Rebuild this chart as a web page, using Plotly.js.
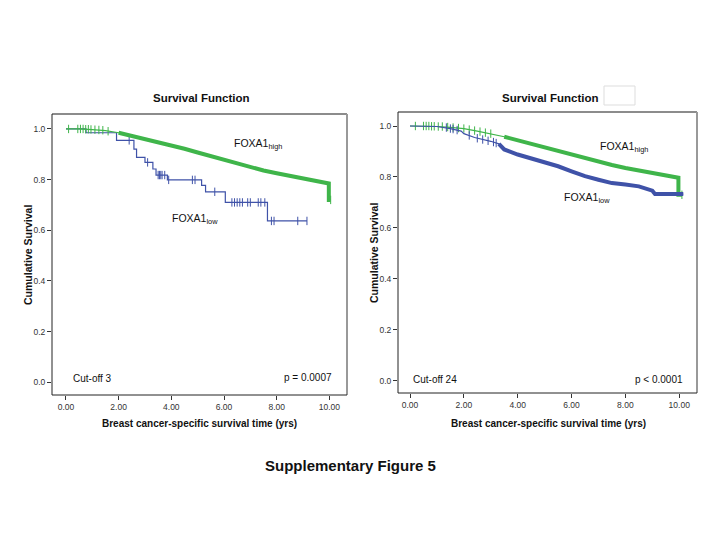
<!DOCTYPE html>
<html>
<head>
<meta charset="utf-8">
<script src="https://cdn.plot.ly/plotly-3.0.1.min.js"></script>
<style>html,body{margin:0;padding:0;background:#fff;}#chart{width:720px;height:540px;}</style>
</head>
<body>
<div id="chart"></div>
<script>
// ---- Data ----
// Left panel: Cut-off 3
var leftHighT = [0, 0.5, 1.0, 1.5, 2.0, 2.5, 3.0, 3.5, 4.0, 4.5, 5.0, 5.5, 6.0, 6.5, 7.0, 7.5, 8.0, 8.5, 9.0, 9.5, 9.98, 9.98, 10.05];
var leftHighS = [1.0, 1.0, 0.997, 0.993, 0.985, 0.973, 0.962, 0.949, 0.936, 0.922, 0.907, 0.892, 0.877, 0.863, 0.849, 0.836, 0.825, 0.815, 0.805, 0.793, 0.785, 0.72, 0.72];
var leftHighCensT = [0.1, 0.45, 0.55, 0.65, 0.75, 0.85, 0.95, 1.1, 1.25, 1.4, 1.6, 10.05];
var leftHighCensS = [1.0, 1.0, 1.0, 1.0, 0.999, 0.999, 0.998, 0.997, 0.996, 0.995, 0.991, 0.72];

var leftLowT = [0, 0.76, 1.92, 2.58, 2.68, 3.0, 3.3, 3.42, 3.85, 5.15, 5.3, 6.05, 7.65, 9.15];
var leftLowS = [1.0, 0.985, 0.955, 0.92, 0.888, 0.868, 0.842, 0.818, 0.799, 0.777, 0.752, 0.71, 0.637, 0.637];
var leftLowCensT = [2.4, 3.1, 3.5, 3.55, 3.6, 3.65, 3.75, 3.9, 4.8, 4.9, 5.65, 6.3, 6.4, 6.5, 6.6, 6.7, 6.9, 7.0, 7.3, 7.4, 7.55, 7.8, 7.9, 8.8, 9.15];
var leftLowCensS = [0.955, 0.868, 0.818, 0.818, 0.818, 0.818, 0.818, 0.799, 0.799, 0.799, 0.752, 0.71, 0.71, 0.71, 0.71, 0.71, 0.71, 0.71, 0.71, 0.71, 0.71, 0.637, 0.637, 0.637, 0.637];

// Right panel: Cut-off 24
var rightHighT = [0, 0.5, 1.0, 1.5, 2.0, 2.5, 3.0, 3.5, 4.0, 4.5, 5.0, 5.5, 6.0, 6.5, 7.0, 7.5, 8.0, 8.5, 9.0, 9.5, 9.97, 9.97, 10.1];
var rightHighS = [1.0, 1.0, 0.998, 0.995, 0.99, 0.98, 0.97, 0.958, 0.944, 0.929, 0.914, 0.901, 0.887, 0.873, 0.859, 0.847, 0.835, 0.825, 0.816, 0.806, 0.797, 0.73, 0.73];
var rightHighCensT = [0.2, 0.5, 0.6, 0.7, 0.8, 0.9, 1.05, 1.2, 1.4, 1.6, 1.8, 2.0, 2.2, 2.4, 2.6, 2.8, 3.0, 10.1];
var rightHighCensS = [1.0, 1.0, 1.0, 1.0, 0.999, 0.999, 0.998, 0.998, 0.996, 0.994, 0.992, 0.99, 0.986, 0.982, 0.978, 0.974, 0.97, 0.73];

var rightLowT = [0, 1.0, 1.5, 1.9, 2.0, 2.4, 3.0, 3.3, 3.5, 4.0, 4.5, 5.0, 5.5, 6.0, 6.5, 7.0, 7.5, 8.0, 8.5, 9.0, 9.1, 10.15];
var rightLowS = [1.0, 0.998, 0.99, 0.98, 0.97, 0.955, 0.94, 0.93, 0.908, 0.888, 0.872, 0.859, 0.842, 0.822, 0.803, 0.789, 0.776, 0.77, 0.763, 0.746, 0.733, 0.733];
var rightLowCensT = [1.35, 1.5, 1.6, 1.75, 2.2, 2.5, 2.7, 2.9, 3.1, 3.2];
var rightLowCensS = [0.994, 0.99, 0.988, 0.984, 0.963, 0.952, 0.947, 0.942, 0.937, 0.933];

var xTicks = [0, 2, 4, 6, 8, 10];
var xTickText = ["0.00", "2.00", "4.00", "6.00", "8.00", "10.00"];
var yTicks = [0, 0.2, 0.4, 0.6, 0.8, 1.0];
var yTickText = ["0.0", "0.2", "0.4", "0.6", "0.8", "1.0"];

// ---- Styling ----
var GREEN = '#3fb54a';
var BLUE = '#3f52a8';
var FONT = '"Liberation Sans", Arial, Helvetica, sans-serif';

function split(T, S, from) {
  var t = [], s = [];
  for (var i = 0; i < T.length; i++) { if (T[i] >= from) { t.push(T[i]); s.push(S[i]); } }
  return {t: t, s: s};
}

function curveTraces(T, S, cT, cS, color, thickFrom, shape, xa, ya) {
  var out = [];
  out.push({x: T, y: S, type: 'scatter', mode: 'lines', xaxis: xa, yaxis: ya,
    line: {color: color, width: 1.2, shape: shape}, hoverinfo: 'skip'});
  if (thickFrom !== null) {
    var p = split(T, S, thickFrom);
    out.push({x: p.t, y: p.s, type: 'scatter', mode: 'lines', xaxis: xa, yaxis: ya,
      line: {color: color, width: 4, shape: shape}, hoverinfo: 'skip'});
  }
  out.push({x: cT, y: cS, type: 'scatter', mode: 'markers', xaxis: xa, yaxis: ya,
    marker: {symbol: 'line-ns-open', size: 6, color: color, line: {color: color, width: 1}}, hoverinfo: 'skip'});
  return out;
}

var traces = [];
traces = traces.concat(curveTraces(leftLowT, leftLowS, leftLowCensT, leftLowCensS, BLUE, null, 'hv', 'x', 'y'));
traces = traces.concat(curveTraces(leftHighT, leftHighS, leftHighCensT, leftHighCensS, GREEN, 1.8, 'linear', 'x', 'y'));
traces = traces.concat(curveTraces(rightHighT, rightHighS, rightHighCensT, rightHighCensS, GREEN, 3.2, 'linear', 'x2', 'y2'));
traces = traces.concat(curveTraces(rightLowT, rightLowS, rightLowCensT, rightLowCensS, BLUE, 3.3, 'linear', 'x2', 'y2'));

function px(x) { return x / 720; }
function py(y) { return 1 - y / 540; }

var L = {x0: 52, x1: 347, y0: 114, y1: 395};
var R = {x0: 398, x1: 697, y0: 112, y1: 393};

function axisX(dom, rng, anchor) {
  return {domain: [px(dom[0]), px(dom[1])], range: rng, anchor: anchor, tickmode: 'array',
    tickvals: xTicks, ticktext: xTickText, ticks: 'outside', ticklen: 4, tickcolor: '#333',
    showgrid: false, zeroline: false, showline: false, fixedrange: true,
    tickfont: {family: FONT, size: 8.5, color: '#333'}};
}
function axisY(dom, rng, anchor) {
  return {domain: [py(dom[1]), py(dom[0])], range: rng, anchor: anchor, tickmode: 'array',
    tickvals: yTicks, ticktext: yTickText, ticks: 'outside', ticklen: 4, tickcolor: '#333',
    showgrid: false, zeroline: false, showline: false, fixedrange: true,
    tickfont: {family: FONT, size: 8.5, color: '#333'}};
}

function border(b) {
  return [
    {type: 'line', xref: 'paper', yref: 'paper', x0: px(b.x0), x1: px(b.x1), y0: py(b.y0), y1: py(b.y0), line: {color: '#666', width: 1.5}},
    {type: 'line', xref: 'paper', yref: 'paper', x0: px(b.x1), x1: px(b.x1), y0: py(b.y0), y1: py(b.y1), line: {color: '#999', width: 2}},
    {type: 'line', xref: 'paper', yref: 'paper', x0: px(b.x0), x1: px(b.x0), y0: py(b.y0), y1: py(b.y1), line: {color: '#222', width: 1}},
    {type: 'line', xref: 'paper', yref: 'paper', x0: px(b.x0), x1: px(b.x1), y0: py(b.y1), y1: py(b.y1), line: {color: '#222', width: 1}}
  ];
}

function ann(text, x, y, size, opts) {
  var a = {text: text, x: px(x), y: py(y), xref: 'paper', yref: 'paper', showarrow: false,
    xanchor: 'center', yanchor: 'middle', font: {family: FONT, size: size, color: '#111'}};
  for (var k in (opts || {})) a[k] = opts[k];
  return a;
}

var annotations = [
  ann('<b>Survival Function</b>', 201, 98, 11.5),
  ann('<b>Survival Function</b>', 550, 98, 11.5),
  ann('<b>Cumulative Survival</b>', 28, 255, 10.5, {textangle: -90}),
  ann('<b>Cumulative Survival</b>', 374, 253, 10.5, {textangle: -90}),
  ann('<b>Breast cancer-specific survival time (yrs)</b>', 199, 423, 10),
  ann('<b>Breast cancer-specific survival time (yrs)</b>', 548, 423, 10),
  ann('FOXA1<sub>high</sub>', 232, 144, 10.5, {xanchor: 'left'}),
  ann('FOXA1<sub>low</sub>', 170, 219, 10.5, {xanchor: 'left'}),
  ann('FOXA1<sub>high</sub>', 598, 147, 10.5, {xanchor: 'left'}),
  ann('FOXA1<sub>low</sub>', 562, 198, 10.5, {xanchor: 'left'}),
  ann('Cut-off 3', 71, 378, 10, {xanchor: 'left'}),
  ann('p = 0.0007', 334, 377, 10, {xanchor: 'right'}),
  ann('Cut-off 24', 411, 379, 10, {xanchor: 'left'}),
  ann('p < 0.0001', 685, 379, 10, {xanchor: 'right'}),
  ann('<b>Supplementary Figure 5</b>', 350, 465, 15)
];

var shapes = border(L).concat(border(R));
shapes.push({type: 'rect', xref: 'paper', yref: 'paper', x0: px(604), x1: px(635), y0: py(105), y1: py(86),
  line: {color: '#ddd', width: 1}, fillcolor: 'rgba(0,0,0,0)'});

var layout = {
  width: 720, height: 540,
  margin: {l: 0, r: 0, t: 0, b: 0},
  paper_bgcolor: '#fff', plot_bgcolor: '#fff',
  showlegend: false,
  font: {family: FONT},
  xaxis: axisX([L.x0, L.x1], [-0.53, 10.67], 'y'),
  yaxis: axisY([L.y0, L.y1], [-0.05, 1.059], 'x'),
  xaxis2: axisX([R.x0, R.x1], [-0.446, 10.66], 'y2'),
  yaxis2: axisY([R.y0, R.y1], [-0.048, 1.055], 'x2'),
  annotations: annotations,
  shapes: shapes
};

Plotly.newPlot('chart', traces, layout, {displayModeBar: false, staticPlot: true});
</script>
</body>
</html>
